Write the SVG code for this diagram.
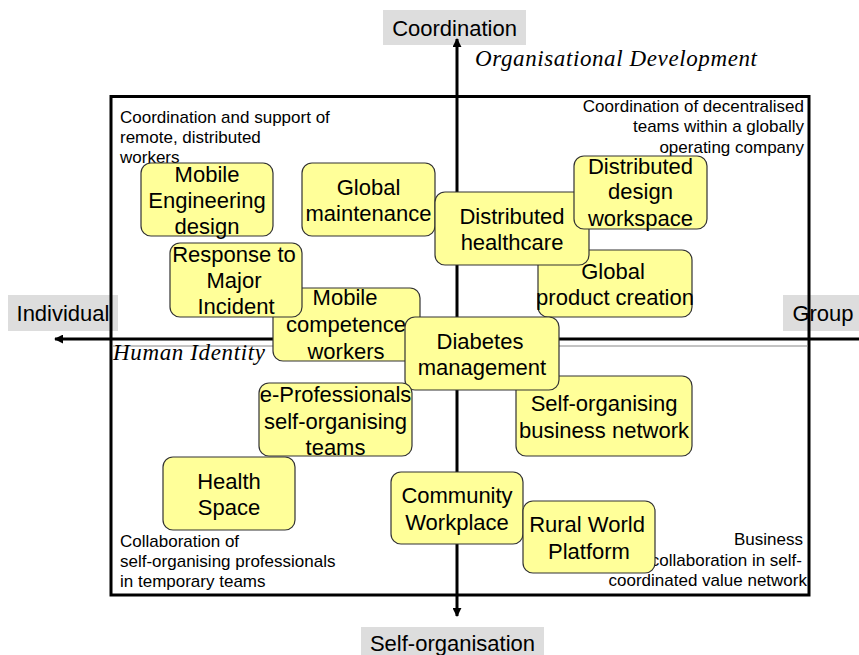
<svg xmlns="http://www.w3.org/2000/svg" width="859" height="655" viewBox="0 0 859 655">
<style>
.lbl{fill:#dddddd}
.ax{font-family:"Liberation Sans",Arial,sans-serif;font-size:22px;fill:#000}
.sm{font-family:"Liberation Sans",Arial,sans-serif;font-size:17px;fill:#000}
.it{font-family:"Liberation Serif","Times New Roman",serif;font-style:italic;font-size:23px;fill:#000}
.node rect{fill:#ffff99;stroke:#333;stroke-width:1.2}
.node text{font-family:"Liberation Sans",Arial,sans-serif;font-size:22px;fill:#000;text-anchor:middle}
.axis{stroke:#000;stroke-width:3;fill:none}
</style>
<defs>
<marker id="ah" viewBox="0 0 10 10" refX="9" refY="5" markerWidth="3" markerHeight="3" orient="auto" markerUnits="strokeWidth">
<path d="M0,0 L10,5 L0,10 z" fill="#000"/>
</marker>
</defs>
<g id="labels-bg">
<rect class="lbl" x="383" y="10" width="143" height="35"/>
<rect class="lbl" x="8" y="295" width="110" height="36"/>
<rect class="lbl" x="783" y="295" width="76" height="36"/>
<rect class="lbl" x="361" y="627" width="183" height="28"/>
</g>
<text class="ax" x="454.5" y="36" text-anchor="middle">Coordination</text>
<text class="ax" x="63" y="321" text-anchor="middle">Individual</text>
<text class="ax" x="823" y="321" text-anchor="middle">Group</text>
<text class="ax" x="452.5" y="651" text-anchor="middle">Self-organisation</text>
<g id="connectors">
<rect x="111" y="96.5" width="698" height="498.5" fill="none" stroke="#000" stroke-width="3"/>
<line x1="113" y1="346" x2="808" y2="346" stroke="#888" stroke-width="1"/>
<line class="axis" x1="859" y1="339" x2="55" y2="339" marker-end="url(#ah)"/>
<line class="axis" x1="457" y1="595" x2="457" y2="39" marker-end="url(#ah)"/>
<line class="axis" x1="457" y1="595" x2="457" y2="616" marker-end="url(#ah)"/>
</g>
<text class="it" x="475" y="66" textLength="282" lengthAdjust="spacing">Organisational Development</text>
<text class="it" x="113" y="360" textLength="152" lengthAdjust="spacing">Human Identity</text>
<g id="quadrant-texts">
<text class="sm" x="120" y="123">Coordination and support of</text>
<text class="sm" x="120" y="143">remote, distributed</text>
<text class="sm" x="120" y="163">workers</text>
<text class="sm" x="804" y="112" text-anchor="end">Coordination of decentralised</text>
<text class="sm" x="804" y="132" text-anchor="end">teams within a globally</text>
<text class="sm" x="804" y="153" text-anchor="end">operating company</text>
<text class="sm" x="120" y="547">Collaboration of</text>
<text class="sm" x="120" y="567">self-organising professionals</text>
<text class="sm" x="120" y="587">in temporary teams</text>
<text class="sm" x="803" y="545" text-anchor="end">Business</text>
<text class="sm" x="802" y="566" text-anchor="end">collaboration in self-</text>
<text class="sm" x="807" y="586" text-anchor="end">coordinated value network</text>
</g>
<g id="n-med" class="node"><rect x="141" y="163" width="132" height="73" rx="10"/>
<text x="207" y="181.5">Mobile</text><text x="207" y="208">Engineering</text><text x="207" y="233.5">design</text></g>
<g id="n-gm" class="node"><rect x="302" y="163" width="133" height="73" rx="10"/>
<text x="368.5" y="194.5">Global</text><text x="368.5" y="220.5">maintenance</text></g>
<g id="n-gpc" class="node"><rect x="538" y="250" width="154" height="67" rx="10"/>
<text x="613" y="278.5">Global</text><text x="615" y="305">product creation</text></g>
<g id="n-dh" class="node"><rect x="435" y="192" width="154" height="73" rx="10"/>
<text x="512" y="223.5">Distributed</text><text x="512" y="249.5">healthcare</text></g>
<g id="n-ddw" class="node"><rect x="574" y="156" width="133" height="73" rx="10"/>
<text x="640.5" y="173.5">Distributed</text><text x="640.5" y="199">design</text><text x="640.5" y="226">workspace</text></g>
<g id="n-mcw" class="node"><rect x="273" y="288" width="147" height="73" rx="10"/>
<text x="345" y="305">Mobile</text><text x="346" y="332">competence</text><text x="346" y="359">workers</text></g>
<g id="n-rmi" class="node"><rect x="170" y="243" width="132" height="74" rx="10"/>
<text x="234" y="261.5">Response to</text><text x="234" y="287.5">Major</text><text x="236" y="314">Incident</text></g>
<g id="n-sobn" class="node"><rect x="516" y="376" width="176" height="80" rx="10"/>
<text x="604" y="411">Self-organising</text><text x="604" y="437.5">business network</text></g>
<g id="n-dm" class="node"><rect x="405" y="317" width="154" height="73" rx="10"/>
<text x="480" y="349">Diabetes</text><text x="482" y="375">management</text></g>
<g id="n-ep" class="node"><rect x="259" y="383" width="153" height="73" rx="10"/>
<text x="335.5" y="401.5">e-Professionals</text><text x="335.5" y="428.5">self-organising</text><text x="335.5" y="454.5">teams</text></g>
<g id="n-hs" class="node"><rect x="163" y="457" width="132" height="73" rx="10"/>
<text x="229" y="488.5">Health</text><text x="229" y="515">Space</text></g>
<g id="n-cw" class="node"><rect x="391" y="472" width="132" height="72" rx="10"/>
<text x="457" y="503">Community</text><text x="457" y="529.5">Workplace</text></g>
<g id="n-rwp" class="node"><rect x="523" y="501" width="132" height="72" rx="10"/>
<text x="587" y="532">Rural World</text><text x="589" y="559">Platform</text></g>
</svg>
